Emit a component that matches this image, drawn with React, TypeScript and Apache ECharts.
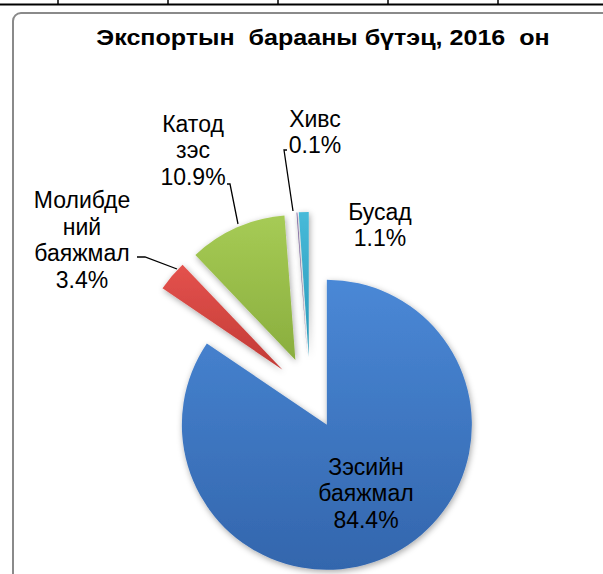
import React, { useEffect, useRef } from "react";
import * as echarts from "echarts";

const titleText = "Экспортын  барааны бүтэц, 2016  он";
const categories = ["Зэсийн\nбаяжмал", "Молибде\nний\nбаяжмал", "Катод\nзэс", "Хивс", "Бусад"];
const values = [84.4, 3.4, 10.9, 0.1, 1.1];
const colors = [
  ["#4a88d6", "#3366ad"],
  ["#e4524d", "#c23a36"],
  ["#a6cb55", "#8aae3e"],
  ["#8a70ad", "#6f5793"],
  ["#47bad9", "#2a98b8"],
];
const tableTicks = [58, 168, 278, 388, 498];

// label placement (centre of label block) and leader lines, by slice
const labelPos: Record<number, any> = {
  0: { x: 366, y: 493 },
  1: { x: 82, y: 240, line: [[137, 257], [145, 257], [177, 269]] },
  2: { x: 193, y: 150, line: [[227, 184], [230, 184], [238, 224]] },
  3: { x: 315, y: 132, line: [[287, 150], [284, 150], [293, 211]] },
  4: { x: 380, y: 225 },
};

const PIE_CX = 310;
const PIE_CY = 393;
const PIE_R = 145;
const EXPLODE = 36;

export default function App() {
  const ref = useRef<HTMLDivElement>(null);
  useEffect(() => {
    if (!ref.current) return;
    const chart = echarts.init(ref.current, null, { renderer: "svg" });
    const font = "'Liberation Sans', Arial, sans-serif";
    const total = values.reduce((a, b) => a + b, 0);
    let acc = 0;
    const centers = values.map((v) => {
      const mid = ((acc + v / 2) / total) * Math.PI * 2;
      acc += v;
      return [PIE_CX + EXPLODE * Math.sin(mid), PIE_CY - EXPLODE * Math.cos(mid)];
    });

    const series = values.map((_, i) => ({
      type: "pie",
      center: centers[i],
      radius: PIE_R,
      startAngle: 90,
      clockwise: true,
      silent: true,
      avoidLabelOverlap: false,
      z: i === 0 ? 2 : 3,
      data: values.map((v, j) => ({
        value: v,
        name: categories[j],
        itemStyle:
          j === i
            ? {
                color: {
                  type: "linear",
                  x: 0,
                  y: 0,
                  x2: 0,
                  y2: 1,
                  colorStops: [
                    { offset: 0, color: colors[j][0] },
                    { offset: 1, color: colors[j][1] },
                  ],
                },
                shadowBlur: 6,
                shadowColor: "rgba(0,0,0,0.35)",
                shadowOffsetX: 1,
                shadowOffsetY: 2,
              }
            : { color: "rgba(0,0,0,0)" },
        label: { show: j === i },
        labelLine: { show: j === i && !!labelPos[j].line },
      })),
      itemStyle: { borderWidth: 0 },
      label: {
        formatter: "{b}\n{c}%",
        fontFamily: font,
        fontSize: 23,
        lineHeight: 26.5,
        color: "#000",
        align: "center",
      },
      labelLine: {
        lineStyle: { color: "#000", width: 1.3 },
      },
      labelLayout: (params: any) => {
        const p = labelPos[params.dataIndex];
        const out: any = { x: p.x, y: p.y, align: "center", verticalAlign: "middle" };
        if (p.line) out.labelLinePoints = p.line;
        return out;
      },
    }));

    chart.setOption({
      animation: false,
      backgroundColor: "#ffffff",
      graphic: [
        {
          type: "line",
          shape: { x1: 0, y1: 4.5, x2: 603, y2: 4.5 },
          style: { stroke: "#000", lineWidth: 2 },
          z: 10,
        },
        ...tableTicks.map((x) => ({
          type: "line",
          shape: { x1: x, y1: 0, x2: x, y2: 5 },
          style: { stroke: "#000", lineWidth: 1.5 },
          z: 10,
        })),
        {
          type: "rect",
          shape: { x: 13, y: 13, width: 640, height: 640, r: 8 },
          style: { fill: "none", stroke: "#8a8a8a", lineWidth: 2 },
          z: 10,
        },
        {
          type: "text",
          x: 323,
          y: 38,
          scaleX: 1.14,
          style: {
            text: titleText,
            fontFamily: font,
            fontSize: 22,
            fontWeight: "bold",
            fill: "#000",
            textAlign: "center",
            textVerticalAlign: "middle",
          },
          z: 10,
        },
      ],
      series,
    });
    return () => chart.dispose();
  }, []);
  return (
    <div
      ref={ref}
      style={{ position: "absolute", left: 0, top: 0, width: 603, height: 574 }}
    />
  );
}
